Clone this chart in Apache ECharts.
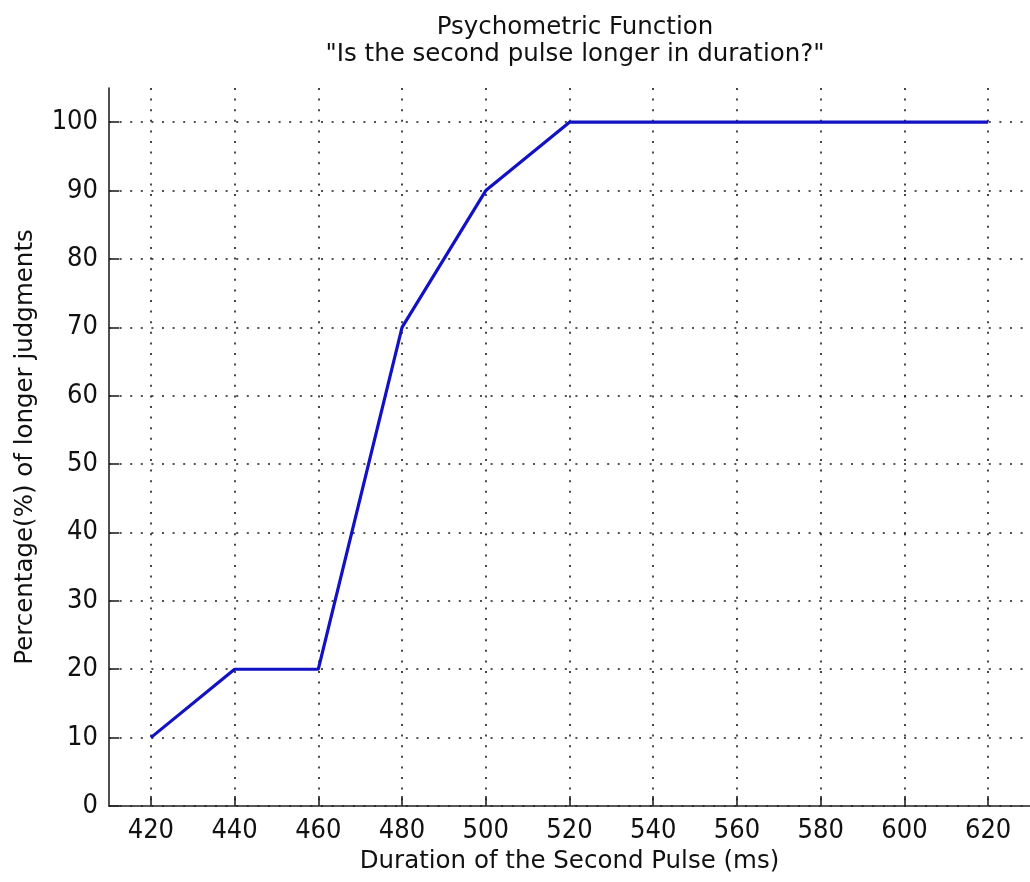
<!DOCTYPE html>
<html><head><meta charset="utf-8">
<script src="https://cdn.jsdelivr.net/npm/echarts@6/dist/echarts.min.js"></script>
<style>html,body{margin:0;padding:0;background:#fff}#c{width:1030px;height:882px}</style>
</head><body><div id="c"></div>
<script>
const durations = [420, 440, 460, 480, 500, 520, 540, 560, 580, 600, 620];
const percentLonger = [10, 20, 20, 70, 90, 100, 100, 100, 100, 100, 100];
const xTicks = [420, 440, 460, 480, 500, 520, 540, 560, 580, 600, 620];
const yTicks = [0, 10, 20, 30, 40, 50, 60, 70, 80, 90, 100];
const titleText = 'Psychometric Function';
const subtitleText = '"Is the second pulse longer in duration?"';
const xName = 'Duration of the Second Pulse (ms)';
const yName = 'Percentage(%) of longer judgments';

const chart = echarts.init(document.getElementById('c'));
const textFont = 'DejaVu Sans, Verdana, sans-serif';
const numFont = 'Liberation Sans Narrow, Arial Narrow, DejaVu Sans Condensed, sans-serif';
const dotted = {type: [2, 8.6], color: '#1a1a1a', width: 1.6};
chart.setOption({
  animation: false,
  backgroundColor: '#fff',
  title: {
    text: titleText + '\n' + subtitleText,
    left: 570, top: 9, textAlign: 'center',
    textStyle: {fontFamily: textFont, fontSize: 24.5, fontWeight: 'normal', color: '#111', lineHeight: 27}
  },
  grid: {left: 109, top: 88, width: 928, height: 718},
  xAxis: {
    type: 'value', min: 410, max: 630,
    name: xName, nameLocation: 'middle', nameGap: 41,
    nameTextStyle: {fontFamily: textFont, fontSize: 24.5, color: '#111'},
    axisLine: {show: true, onZero: false, lineStyle: {color: '#222', width: 1.6}},
    axisTick: {show: true, inside: true, length: 10, customValues: xTicks, lineStyle: {color: '#222', width: 1.6}},
    axisLabel: {fontFamily: numFont, fontSize: 27, color: '#111', margin: 11, customValues: xTicks},
    splitLine: {show: true, lineStyle: dotted},
  },
  yAxis: {
    type: 'value', min: 0, max: 105,
    name: yName, nameLocation: 'middle', nameGap: 71, nameRotate: 90,
    nameTextStyle: {fontFamily: textFont, fontSize: 24.5, color: '#111'},
    axisLine: {show: true, lineStyle: {color: '#222', width: 1.6}},
    axisTick: {show: true, inside: true, length: 10, customValues: yTicks, lineStyle: {color: '#222', width: 1.6}},
    axisLabel: {fontFamily: numFont, fontSize: 27, color: '#111', margin: 11, customValues: yTicks},
    splitLine: {show: true, lineStyle: dotted},
  },
  series: [{
    type: 'line',
    data: durations.map((d, i) => [d, percentLonger[i]]),
    showSymbol: false, symbol: 'none',
    lineStyle: {color: '#1212c4', width: 3.2},
    z: 5
  }]
});
</script></body></html>
